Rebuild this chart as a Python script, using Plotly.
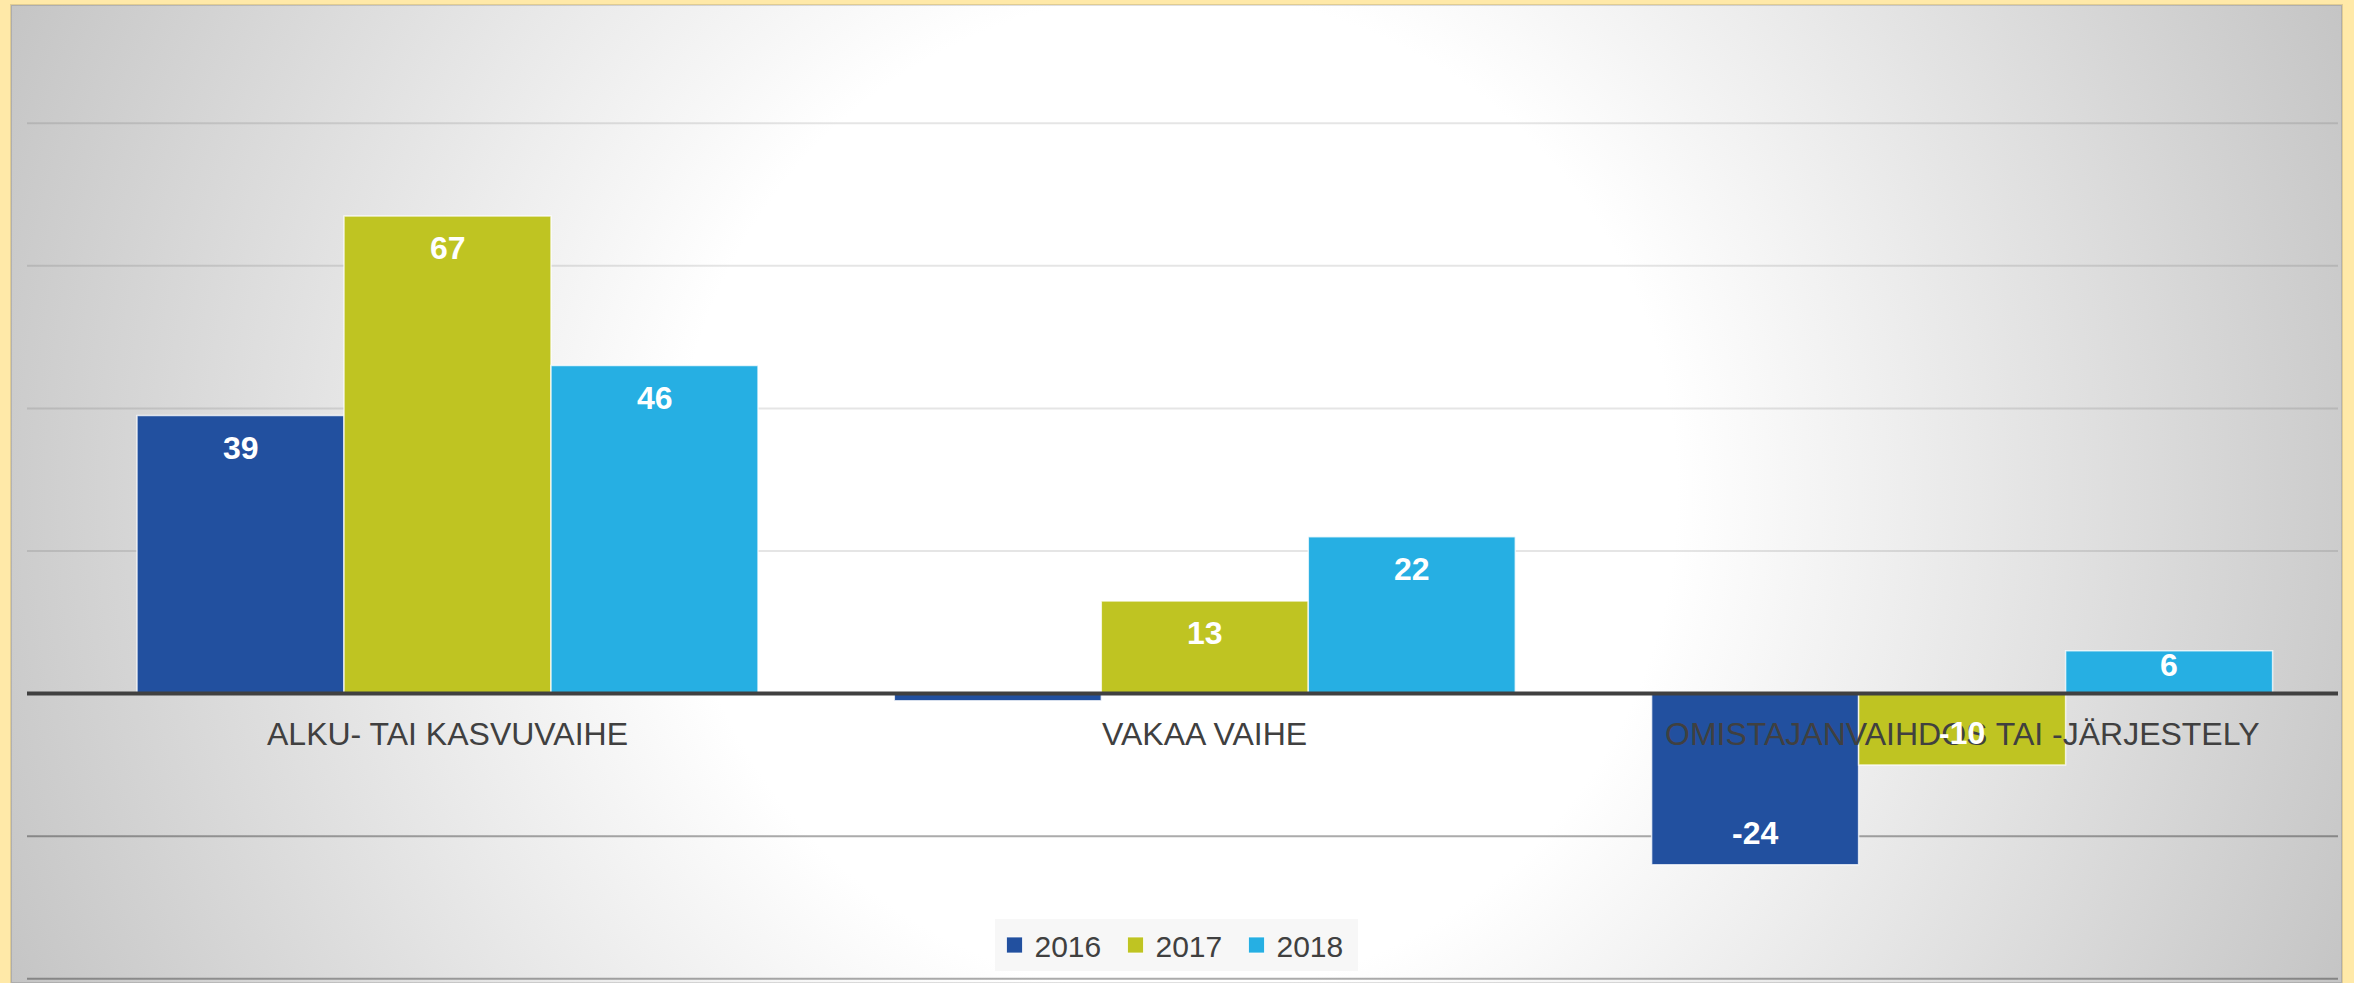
import base64
import plotly.graph_objects as go

# ---------------- data ----------------
categories = ["ALKU- TAI KASVUVAIHE", "VAKAA VAIHE", "OMISTAJANVAIHDOS TAI -JÄRJESTELY"]
years = ["2016", "2017", "2018"]
v2016 = [39, -1, -24]
v2017 = [67, 13, -10]
v2018 = [46, 22, 6]
series = [v2016, v2017, v2018]
colors = ["#22509F", "#BFC422", "#26AFE3"]
gridvals = [80, 60, 40, 20, -20, -40]

# ---------------- geometry ----------------
W, H = 2354, 983
FONT = "Liberation Sans, Arial, sans-serif"
BARGAP = 0.18
xs = list(range(len(categories)))
EDGE = "rgba(255,255,255,0.75)"

fig = go.Figure()
for name, vals, col in zip(years, series, colors):
    fig.add_trace(go.Bar(
        x=xs, y=vals, name=name, showlegend=False,
        marker=dict(color=col, line=dict(color=EDGE, width=1.5)),
        textposition="none", hoverinfo="y+name",
    ))
# legend entries (square swatches)
for name, col in zip(years, colors):
    fig.add_trace(go.Scatter(
        x=[None], y=[None], mode="markers", name=name,
        marker=dict(symbol="square", size=16, color=col, line=dict(color=EDGE, width=1)),
    ))

# gradient background (radial, white centre, grey edges)
gx0, gy0, gw, gh = 11, 5, 2331, 978
svg = f'''<svg xmlns="http://www.w3.org/2000/svg" width="{gw}" height="{gh}" viewBox="0 0 {gw} {gh}">
<defs><radialGradient id="g" gradientUnits="userSpaceOnUse" cx="{gw/2}" cy="{gh/2}" r="1300">
<stop offset="0" stop-color="#FFFFFF"/><stop offset="0.385" stop-color="#FFFFFF"/>
<stop offset="1" stop-color="#C2C2C2"/></radialGradient></defs>
<rect x="0" y="0" width="{gw}" height="{gh}" fill="url(#g)"/></svg>'''
src = "data:image/svg+xml;base64," + base64.b64encode(svg.encode()).decode()

fig.add_layout_image(dict(
    source=src, xref="paper", yref="paper",
    x=gx0 / W, y=1 - gy0 / H, sizex=gw / W, sizey=gh / H,
    xanchor="left", yanchor="top", sizing="stretch", layer="below",
))

shapes = []
shapes.append(dict(type="rect", xref="paper", yref="paper",
                   x0=gx0 / W, x1=(gx0 + gw) / W, y0=0, y1=1 - gy0 / H,
                   line=dict(color="rgba(0,0,0,0.12)", width=2), layer="below"))
for g in gridvals:
    shapes.append(dict(type="line", xref="x domain", yref="y", x0=0, x1=1, y0=g, y1=g,
                       line=dict(color="rgba(0,0,0,0.10)" if g > 0 else "rgba(0,0,0,0.33)", width=2),
                       layer="below"))
shapes.append(dict(type="line", xref="x domain", yref="y", x0=0, x1=1, y0=0, y1=0,
                   line=dict(color="#404040", width=4), layer="above"))

px_per_unit = 142.6 / 20
zero_px = 693.6

annotations = []
for i, c in enumerate(categories):
    annotations.append(dict(x=i, y=0, xref="x", yref="y", text=c, showarrow=False,
                            yanchor="middle", yshift=-40,
                            font=dict(family=FONT, size=32, color="#404040")))
bw = (1 - BARGAP) / len(series)
for j, vals in enumerate(series):
    for i, v in enumerate(vals):
        if abs(v) < 2:  # tiny bar: label not shown in the reference
            continue
        shift = min(32, abs(v) * px_per_unit - 29)
        annotations.append(dict(x=i + (j - 1) * bw, y=v, xref="x", yref="y", text=f"<b>{v}</b>",
                                showarrow=False, yanchor="middle",
                                yshift=-shift if v > 0 else shift,
                                font=dict(family=FONT, size=32, color="#FFFFFF")))

y_top = (zero_px - gy0) / px_per_unit
y_bot = -(H - zero_px) / px_per_unit
x_left = (27 - 447.5) / 757.3
x_right = (2338 - 447.5) / 757.3

fig.update_layout(
    width=W, height=H,
    margin=dict(l=0, r=0, t=0, b=0),
    paper_bgcolor="#FFE9A8",
    plot_bgcolor="rgba(0,0,0,0)",
    barmode="group", bargap=BARGAP, bargroupgap=0,
    xaxis=dict(domain=[27 / W, 2338 / W], range=[x_left, x_right],
               showgrid=False, zeroline=False, showticklabels=False, ticks=""),
    yaxis=dict(domain=[0, 1 - gy0 / H], range=[y_bot, y_top],
               showgrid=False, zeroline=False, showticklabels=False, ticks=""),
    shapes=shapes, annotations=annotations,
    legend=dict(orientation="h", x=1176 / W, xanchor="center", y=1 - 945 / H, yanchor="middle",
                bgcolor="#F7F7F7", font=dict(family=FONT, size=30, color="#404040"),
                itemwidth=30, entrywidth=76, itemsizing="trace"),
    showlegend=True,
)

fig.write_html("out.html", config={"displayModeBar": False},
               post_script="document.body.style.margin='0';document.body.style.overflow='hidden';")
